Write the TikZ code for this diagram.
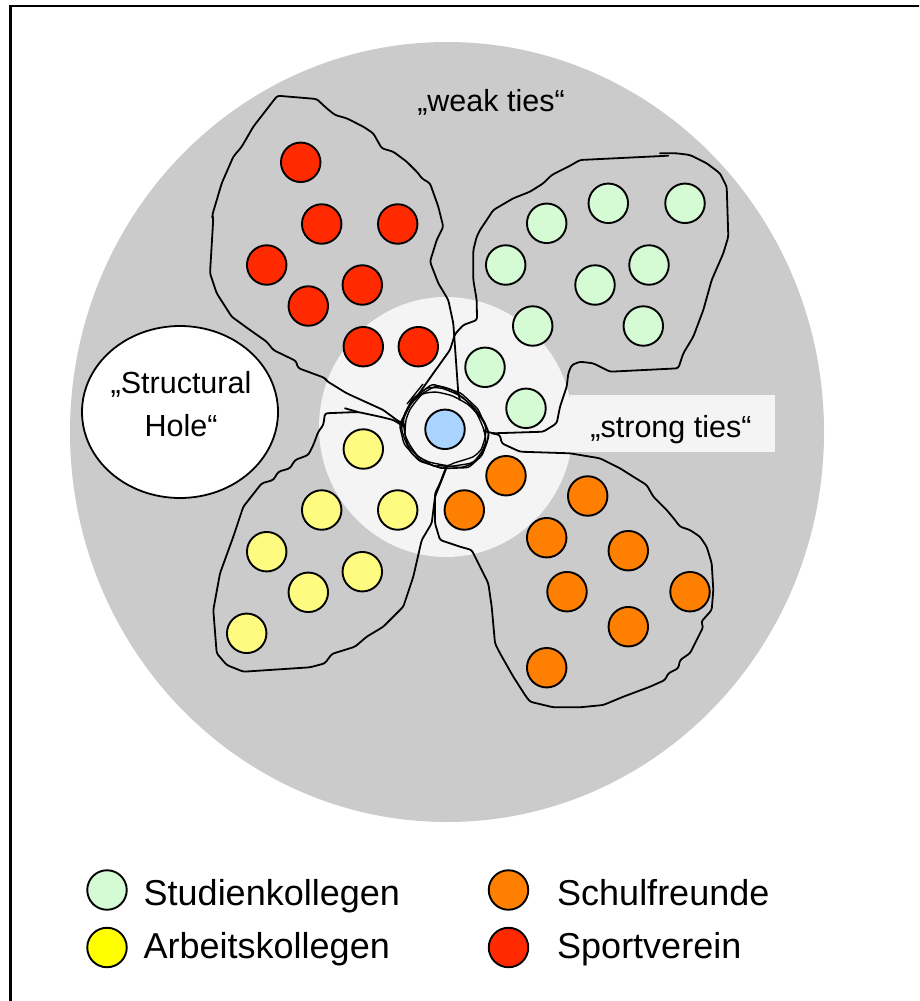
\documentclass[tikz,border=0pt]{standalone}
\usepackage{fontspec}
\setmainfont{Liberation Sans}
\usetikzlibrary{shapes.geometric}
\definecolor{weakgray}{HTML}{CBCBCB}
\definecolor{stronggray}{HTML}{F4F4F4}
\definecolor{sport}{HTML}{FF2A00}
\definecolor{studi}{HTML}{D5FBD5}
\definecolor{arbeit}{HTML}{FFFA80}
\definecolor{schul}{HTML}{FF7F00}
\definecolor{ego}{HTML}{A9D4FF}
\definecolor{legyellow}{HTML}{FFFF00}
\begin{document}
\begin{tikzpicture}[x=1pt,y=-1pt,
  person/.style={circle,draw=black,line width=1.9pt,minimum size=39.5pt,inner sep=0pt},
  blob/.style={draw=black,line width=1.8pt,rounded corners=2.5pt,line join=round,line cap=round},
  knot/.style={draw=black,line width=1.4pt,line join=round},
  lbl/.style={font=\fontsize{30.5}{43}\selectfont,inner sep=0pt},
  legtext/.style={font=\fontsize{36}{43}\selectfont,inner sep=0pt,anchor=base west}]
\useasboundingbox (0,0) rectangle (919,1001);
\clip (0,0) rectangle (919,1001);
\fill[white] (0,0) rectangle (919,1001);
\draw[line width=2.2pt] (10.5,1010) -- (10.5,6) -- (930,6);
% zones
\fill[weakgray] (447,432) ellipse [x radius=377pt, y radius=390pt];
\fill[stronggray] (446,427) ellipse [x radius=127pt, y radius=130pt];
\fill[stronggray] (570,395) rectangle (775,452);
% structural hole
\node[ellipse,draw=black,line width=1.8pt,fill=white,minimum width=196pt,minimum height=172pt,inner sep=0pt] (hole) at (180,412) {};
\node[lbl,align=center] (holetext) at (181,404) {„Structural\\Hole“};
% labels
\node[lbl,anchor=base] (weak) at (491,111) {„weak ties“};
\node[lbl,anchor=base] (strong) at (671,437) {„strong ties“};
% red blob (Sportverein)
\draw[blob] (405,425) -- (396.7,420) -- (383.3,410) -- (346.7,393.3) -- (326.7,381) -- (325,378) -- (298,368) -- (296,361) -- (273.3,350) -- (266.7,341.7) -- (250,330) -- (231.7,316.7) -- (216.7,293.3) -- (210,273.3) -- (213.3,218.3) -- (212,216) -- (221.7,183.3) -- (233.3,156.7) -- (241.7,146.7) -- (253.3,126.7) -- (277.3,95.7) -- (316.7,99) -- (326.7,108.3) -- (335,115) -- (346.7,118.3) -- (363.3,126.7) -- (373.3,133.3) -- (381.7,148.3) -- (393.3,151.7) -- (406.7,161.7) -- (418.3,173.3) -- (421.7,178.3) -- (430,183.3) -- (438.3,206.7) -- (443.3,226.7) -- (436.7,240) -- (430,261.7) -- (438.3,283.3) -- (448.3,300) -- (453.3,323.3) -- (458.3,393.3) -- (460,400);
% green blob (Studienkollegen)
\draw[blob] (418,395) -- (433.3,373.3) -- (450,350) -- (455,334) -- (463.3,325) -- (477,320) -- (476.7,300) -- (473.3,280) -- (473.3,250) -- (476.7,236.7) -- (480,230) -- (486.7,220) -- (493.3,210) -- (513.3,198.3) -- (530,191.7) -- (543.3,183.3) -- (551.7,175) -- (568.3,166.7) -- (580,160) -- (668.3,155.7);
\draw[blob] (660,153.3) -- (676.7,153.3) -- (690,155) -- (706.7,163.3) -- (720,173.3) -- (726.7,186.7) -- (728.3,236.7) -- (723.3,253.3) -- (711.7,280) -- (703.3,310) -- (693.3,336.7) -- (683.3,353.3) -- (678.3,368.3) -- (610,371.7) -- (593.3,363.3) -- (580,361.7) -- (571.7,365) -- (568.3,373.3) -- (566.7,386.7) -- (560,406.7) -- (556.7,423.3) -- (543.3,431.7) -- (493.3,433.3) -- (484,431);
% yellow blob (Arbeitskollegen)
\draw[blob] (405,427) -- (393.3,420) -- (380,416.7) -- (358,412) -- (325,413.3) -- (323.3,425) -- (318.3,431.7) -- (313.3,445) -- (308.3,455) -- (295,460) -- (290,468.3) -- (278.3,471.7) -- (273.3,480) -- (261.7,483.3) -- (243.3,506.7) -- (233.3,536.7) -- (220,573.3) -- (213.3,610) -- (216.7,653.3) -- (226.7,665) -- (243.3,671.7) -- (310,667.3) -- (325,663.3) -- (331.7,654) -- (355,646.7) -- (366.7,636.7) -- (383.3,626.7) -- (403.3,606.7) -- (413.3,576.7) -- (421.7,540) -- (431.7,523.3) -- (435,496.7) -- (441.7,480) -- (446,469);
\draw[blob] (345,408.3) -- (358,412);
% orange blob (Schulfreunde)
\draw[blob] (445,470) -- (440,483.3) -- (435,493.3) -- (435,523.3) -- (440,540) -- (460,546.7) -- (471.7,550) -- (480,566.7) -- (488.3,583.3) -- (491.7,606.7) -- (495,643.3) -- (500,653.3) -- (513.3,676.7) -- (525,695) -- (530,701.7) -- (553.3,707.3) -- (580,707.3) -- (603.3,705) -- (623.3,696.7) -- (650,686.7) -- (665,680) -- (668.3,673.3) -- (678.3,668.3) -- (680,660) -- (690,653.3) -- (696.7,640) -- (703.3,626.7) -- (701,622) -- (711.7,610) -- (713.3,590) -- (711.7,563.3) -- (706.7,546.7) -- (700,536.7) -- (690,530) -- (680,526.7) -- (675,520) -- (666.7,510) -- (653.3,496.7) -- (646.7,485) -- (633.3,476.7) -- (620,468.3) -- (600,458.3) -- (570,453.3) -- (520,451.7) -- (501.7,443.3) -- (500,435) -- (491.7,433.3);
% knot around ego
\begin{scope}[shift={(445,429)}]
\foreach \s/\r in {1/0, 0.93/9, 0.98/-13} {
  \draw[knot, rotate=\r, scale=\s] plot[smooth cycle, tension=0.35] coordinates {(-33.3,-27.3) (-18.3,-40.7) (-3.3,-40.7) (13.3,-34) (28.3,-22.3) (38.3,-9) (43.3,2.7) (41.7,14.3) (35,27.7) (25,34.3) (3.3,37.7) (-3.3,39.3) (-21.7,32.7) (-33.3,24.3) (-40,11) (-43.3,-0.7) (-40,-15.7)};
}
\draw[knot, rounded corners=3pt, rotate=-5, scale=1.04] (-34,-26) -- (-16,-42) -- (12,-36) -- (30,-22) -- (43,2) -- (38,22) -- (26,35) -- (2,38) -- (-22,33) -- (-38,18) -- (-44,0) -- cycle;
\draw[knot] (-22,-45) -- (-38,-25);
\end{scope}
% persons
\foreach \p [count=\i] in {(300.7,162.3),(321.7,224),(397.7,224),(266.7,265),(362.3,285),(308.3,306),(363.3,346.7),(418.3,346.7)}
  \node[person,fill=sport] (r\i) at \p {};
\foreach \p [count=\i] in {(546.7,223.3),(608.3,203.3),(685,203.3),(505.7,265),(649,265),(595,285),(532.7,326),(643.3,326),(485,367.3),(526,408.3)}
  \node[person,fill=studi] (g\i) at \p {};
\foreach \p [count=\i] in {(363.3,449),(321.7,510),(397.7,510),(266.7,551.7),(362.3,571.7),(308.3,592.3),(246.7,633.3)}
  \node[person,fill=arbeit] (y\i) at \p {};
\foreach \p [count=\i] in {(506,475.7),(464.3,510),(587.7,496),(546.7,537.7),(628.3,550.7),(567,591.7),(690,591.7),(628.3,626.7),(546.7,667.7)}
  \node[person,fill=schul] (o\i) at \p {};
\node[person,fill=ego] (me) at (445,429.3) {};
% legend
\node[person,fill=studi] (lstudi) at (107,890) {};
\node[person,fill=legyellow] (larbeit) at (107,947.5) {};
\node[person,fill=schul] (lschul) at (508.5,890) {};
\node[person,fill=sport] (lsport) at (508.5,947.5) {};
\node[legtext] (tstudi) at (143.5,905) {Studienkollegen};
\node[legtext] (tarbeit) at (143.5,958) {Arbeitskollegen};
\node[legtext] (tschul) at (557,905) {Schulfreunde};
\node[legtext] (tsport) at (557,958) {Sportverein};
\end{tikzpicture}
\end{document}
